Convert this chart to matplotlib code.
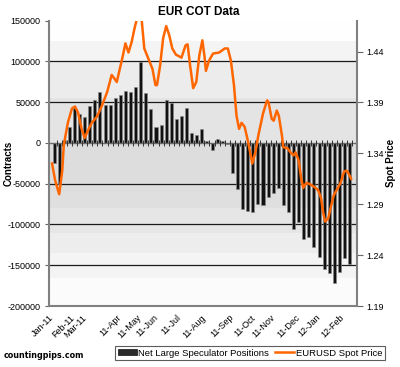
import numpy as np
import matplotlib
matplotlib.use('Agg')
import matplotlib.pyplot as plt
from matplotlib.lines import Line2D
from matplotlib.patches import Patch

plt.rcParams['font.family'] = ['Liberation Sans', 'DejaVu Sans']

####################################################################################################
# data

# weekly net large speculator positions, Jan-2011 .. Feb-2012
positions = [
    -25000, -50000, 3000, 20000, 43000, 35000, 32000, 45000, 52000, 62000,
    46000, 46000, 55000, 59000, 64000, 63000, 68000, 99000, 61000, 41000,
    19000, 22000, 52000, 49000, 29000, 33000, 43000, 12000, 10000, 17000,
    2500, -9000, 5000, 2000, -1500, -37000, -56000, -81000, -83000, -85000,
    -74500, -76000, -66000, -61000, -55000, -76000, -85000, -105000, -97000, -118000,
    -115000, -127500, -140000, -155000, -160000, -172000, -158500, -141000, -149000,
]

# EURUSD spot, position in weeks and price
spot_week = [
    -0.4, 0.2, 1.0, 1.6, 1.9, 2.7, 3.5, 4.1, 4.7, 5.4,
    6.0, 6.6, 7.4, 8.4, 9.4, 10.4, 11.3, 11.9, 12.3, 12.9,
    13.5, 14.0, 14.6, 15.2, 15.8, 16.4, 17.0, 17.3, 17.7, 18.5,
    19.3, 19.9, 20.2, 20.8, 21.4, 22.0, 22.6, 23.2, 23.9, 25.0,
    25.8, 26.2, 26.7, 27.3, 27.9, 28.5, 29.1, 29.5, 29.8, 30.4,
    31.2, 32.4, 33.5, 34.1, 34.7, 35.3, 35.8, 36.3, 36.8, 37.4,
    38.0, 38.6, 38.9, 39.5, 40.1, 41.0, 41.8, 42.1, 42.7, 43.1,
    43.7, 44.1, 44.7, 45.0, 45.8, 46.4, 47.0, 47.4, 48.0, 48.5,
    48.9, 49.5, 50.1, 51.1, 51.8, 52.4, 52.8, 53.2, 53.8, 54.3,
    54.9, 55.7, 56.3, 56.9, 57.4, 57.7, 58.3,
]
spot_price = [
    1.330, 1.3135, 1.2998, 1.323, 1.348, 1.370, 1.384, 1.386, 1.380, 1.364,
    1.355, 1.362, 1.370, 1.376, 1.387, 1.400, 1.417, 1.413, 1.410, 1.423,
    1.436, 1.448, 1.439, 1.449, 1.463, 1.475, 1.482, 1.465, 1.443, 1.433,
    1.423, 1.407, 1.407, 1.426, 1.453, 1.465, 1.456, 1.443, 1.437, 1.434,
    1.446, 1.447, 1.426, 1.404, 1.410, 1.436, 1.451, 1.436, 1.421, 1.431,
    1.438, 1.439, 1.443, 1.443, 1.431, 1.407, 1.377, 1.364, 1.370, 1.366,
    1.353, 1.338, 1.330, 1.341, 1.358, 1.379, 1.392, 1.390, 1.374, 1.372,
    1.382, 1.377, 1.358, 1.346, 1.345, 1.341, 1.338, 1.341, 1.333, 1.315,
    1.306, 1.311, 1.310, 1.307, 1.304, 1.296, 1.282, 1.273, 1.276, 1.287,
    1.299, 1.306, 1.312, 1.322, 1.323, 1.321, 1.315,
]

month_labels = ['Jan-11', 'Feb-11', 'Mar-11', '11-Apr', '11-May', '11-Jun', '11-Jul',
                '11-Aug', '11-Sep', '11-Oct', '11-Nov', '11-Dec', '12-Jan', '12-Feb']
month_pos = [-1.0, 3.1, 5.5, 12.3, 16.2, 19.5, 24.0, 28.8, 34.3, 38.6, 42.5, 47.4, 51.3, 56.1]

left_ticks = [-200000, -150000, -100000, -50000, 0, 50000, 100000, 150000]
right_ticks = [1.19, 1.24, 1.29, 1.34, 1.39, 1.44]

####################################################################################################

fig = plt.figure(figsize=(4.0, 3.67), dpi=100)
ax = fig.add_axes([0.1225, 0.166, 0.77, 0.778])
ax.set_xlim(-0.6, 59.45)
ax.set_ylim(-200000, 150000)

# banded grey background
band_edges = [150000, 125000, 100000, 55000, 0, -60000, -80000, -110000, -135000, -165000, -200000]
band_grey = [0.995, 0.955, 0.925, 0.895, 0.865, 0.875, 0.90, 0.93, 0.955, 0.985]
for top, bottom, g in zip(band_edges[:-1], band_edges[1:], band_grey):
    ax.axhspan(bottom, top, color=(g, g, g), lw=0, zorder=0)

for t in left_ticks[1:-1]:
    if t != 0:
        ax.axhline(t, color='#1a1a1a', lw=0.9, zorder=1)
ax.axhline(0, color='#6a6a6a', lw=1.0, zorder=3)

weeks = np.arange(len(positions))
ax.bar(weeks, positions, width=0.6, color='#111111', edgecolor='#8a8a8a', lw=0.4, zorder=2)
ax.plot(weeks + 0.5, np.zeros(len(weeks)), ls='none', marker='|', ms=4, mew=0.7,
        color='#333333', zorder=3)

ax.set_yticks(left_ticks)
ax.set_yticklabels([str(t) for t in left_ticks])
ax.set_xticks(month_pos)
ax.set_xticklabels(month_labels, rotation=45, ha='right', va='top', rotation_mode='anchor')
ax.tick_params(axis='x', length=0, pad=5, labelsize=6.5)
ax.tick_params(axis='y', length=3, width=0.8, color='#666666', pad=3, labelsize=6.5)

for s in ('left', 'bottom'):
    ax.spines[s].set_color('#808080')
    ax.spines[s].set_linewidth(1.5)
ax.spines['top'].set_visible(False)
ax.spines['right'].set_visible(False)

ax2 = ax.twinx()
ax2.set_ylim(1.19, 1.4704)
ax2.plot(spot_week, spot_price, color='#FF6600', lw=1.8, zorder=5)
ax2.set_yticks(right_ticks)
ax2.set_yticklabels(['%.2f' % t for t in right_ticks])
ax2.tick_params(axis='y', length=4, width=0.8, color='#666666', pad=3, labelsize=6.5)
ax2.spines['right'].set_color('#808080')
ax2.spines['right'].set_linewidth(1.5)
for s in ('top', 'left', 'bottom'):
    ax2.spines[s].set_visible(False)

fig.text(0.4975, 0.967, 'EUR COT Data', ha='center', va='center', fontsize=8.5, fontweight='bold')
fig.text(0.022, 0.556, 'Contracts', rotation=90, ha='center', va='center', fontsize=7, fontweight='bold')
fig.text(0.978, 0.556, 'Spot Price', rotation=90, ha='center', va='center', fontsize=7, fontweight='bold')
fig.text(0.008, 0.030, 'countingpips.com', ha='left', va='center', fontsize=5.8,
         fontweight='bold', family='DejaVu Sans')

handles = [Patch(facecolor='#2a2a2a', edgecolor='#111111', lw=0.5),
           Line2D([], [], color='#FF6600', lw=1.8)]
leg = fig.legend(handles, ['Net Large Speculator Positions', 'EURUSD Spot Price'],
                 loc='center', bbox_to_anchor=(0.625, 0.038), ncol=2, fontsize=6.8,
                 frameon=True, fancybox=False, edgecolor='#333333', borderpad=0.3,
                 handlelength=2.0, handleheight=0.6, columnspacing=0.6, handletextpad=0.2)
leg.get_frame().set_linewidth(0.8)

fig.savefig('out.png', dpi=100, facecolor='white')
